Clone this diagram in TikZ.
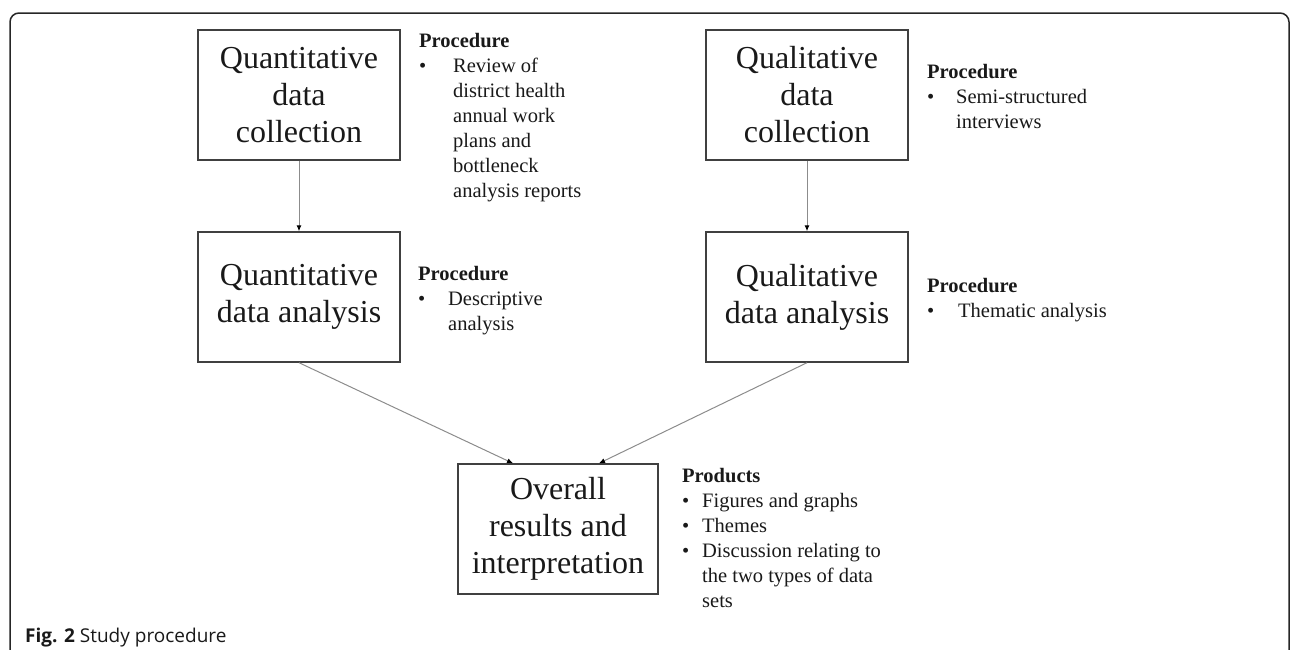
\documentclass[tikz,border=0pt]{standalone}
\usepackage{fontspec}
\setmainfont{Liberation Serif}
\newfontfamily\capfont{Open Sans}
\usetikzlibrary{arrows.meta}

% bullet line and continuation line of a note list, with a given indent
\newcommand{\bitem}[2]{\makebox[#1][l]{\textbullet}#2}
\newcommand{\bcont}[2]{\hspace*{#1}#2}

\begin{document}
\begin{tikzpicture}[x=1pt,y=-1pt,
  stage/.style={draw=black!75, line width=1.4pt, minimum width=202pt,
    minimum height=130pt, align=center, inner sep=0pt,
    font=\fontsize{32}{37}\selectfont, text=black!90},
  flow/.style={draw=black!45, line width=1pt,
    -{Latex[length=6pt,width=5pt,black]}},
  notes/.style={anchor=base west, inner sep=0pt,
    font=\fontsize{20.5}{25}\selectfont, text=black!90},
  frame/.style={draw=black!85, line width=1.5pt, rounded corners=9pt}]
\useasboundingbox (0,0) rectangle (1290,649);

% figure frame, open at the bottom
\draw[frame] (10,720) -- (10,13) -- (1289,13) -- (1289,720);

% stages
\node[stage] (qncol) at (299,95)  {Quantitative\\data\\collection};
\node[stage] (qnana) at (299,297) {Quantitative\\data analysis};
\node[stage] (qlcol) at (807,95)  {Qualitative\\data\\collection};
\node[stage] (qlana) at (807,297) {Qualitative\\data analysis};
\node[stage, minimum width=200pt] (final) at (558,529) {Overall\\results and\\interpretation};

% connectors
\draw[flow] (qncol.south) -- (qnana.north);
\draw[flow] (qlcol.south) -- (qlana.north);
\draw[flow] (qnana.south) -- ([xshift=-45pt]final.north);
\draw[flow] (qlana.south) -- ([xshift=41pt]final.north);

% procedures and products
\node[notes] (n1) at (419,47) {\begin{tabular}[t]{@{}l@{}}
  \textbf{Procedure}\\
  \bitem{34pt}{Review of}\\
  \bcont{34pt}{district health}\\
  \bcont{34pt}{annual work}\\
  \bcont{34pt}{plans and}\\
  \bcont{34pt}{bottleneck}\\
  \bcont{34pt}{analysis reports}
\end{tabular}};

\node[notes] (n2) at (418,280) {\begin{tabular}[t]{@{}l@{}}
  \textbf{Procedure}\\
  \bitem{30pt}{Descriptive}\\
  \bcont{30pt}{analysis}
\end{tabular}};

\node[notes] (n3) at (927,78) {\begin{tabular}[t]{@{}l@{}}
  \textbf{Procedure}\\
  \bitem{29pt}{Semi-structured}\\
  \bcont{29pt}{interviews}
\end{tabular}};

\node[notes] (n4) at (927,292) {\begin{tabular}[t]{@{}l@{}}
  \textbf{Procedure}\\
  \bitem{31pt}{Thematic analysis}
\end{tabular}};

\node[notes] (n5) at (682,482) {\begin{tabular}[t]{@{}l@{}}
  \textbf{Products}\\
  \bitem{20pt}{Figures and graphs}\\
  \bitem{20pt}{Themes}\\
  \bitem{20pt}{Discussion relating to}\\
  \bcont{20pt}{the two types of data}\\
  \bcont{20pt}{sets}
\end{tabular}};

% caption
\node[anchor=base west, inner sep=0pt, font=\capfont\fontsize{19}{22}\selectfont,
  text=black!90] (cap) at (25,642) {\textbf{Fig. 2} Study procedure};
\end{tikzpicture}
\end{document}
